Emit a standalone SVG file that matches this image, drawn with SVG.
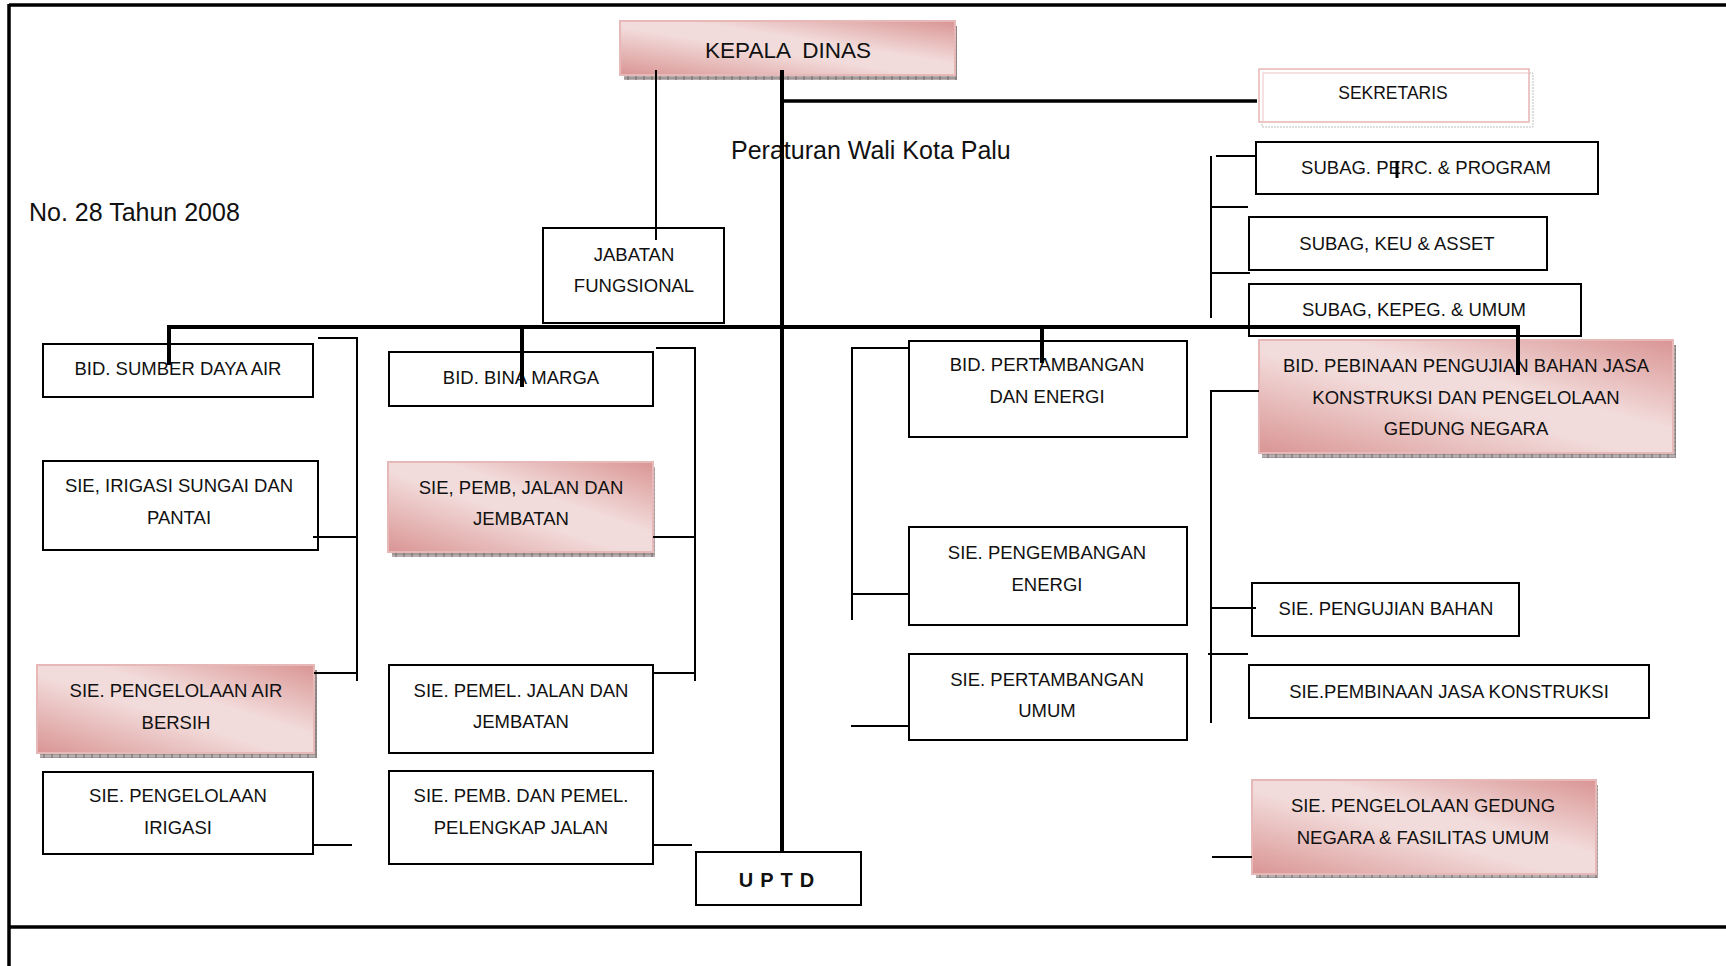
<svg xmlns="http://www.w3.org/2000/svg" width="1726" height="966" viewBox="0 0 1726 966">
<defs>
<linearGradient id="pink" x1="0" y1="1" x2="1" y2="0">
<stop offset="0" stop-color="#d99594"/>
<stop offset="0.45" stop-color="#f2dcdb"/>
<stop offset="0.6" stop-color="#f2dcdb"/>
<stop offset="1" stop-color="#d99594"/>
</linearGradient>
<pattern id="hatch" width="8" height="4" patternUnits="userSpaceOnUse">
<rect width="8" height="4" fill="#b8b0b0"/>
<line x1="0" y1="2" x2="8" y2="2" stroke="#8a7f7f" stroke-width="1"/>
<line x1="4" y1="0" x2="4" y2="4" stroke="#6f6666" stroke-width="1"/>
</pattern>
</defs>
<style>
text{font-family:"Liberation Sans",Arial,sans-serif;fill:#111;text-anchor:middle;font-size:18.5px}
.box{fill:#fff;stroke:#000;stroke-width:2}
.pk{fill:url(#pink);stroke:#e6b8b7;stroke-width:2}
.sh{fill:url(#hatch)}
.thin{stroke:#000;stroke-width:2;fill:none}
.thick{stroke:#000;stroke-width:4;fill:none}
.frame{stroke:#000;stroke-width:3.5;fill:none}
.big{font-size:25px;text-anchor:start}
</style>

<g id="frame">
<line class="frame" x1="9" y1="5" x2="1726" y2="5"/>
<line class="frame" x1="9" y1="4" x2="9" y2="966"/>
<line class="frame" x1="9" y1="927" x2="1726" y2="927"/>
</g>

<text class="big" x="731" y="159">Peraturan Wali Kota Palu</text>
<text class="big" x="29" y="221">No. 28 Tahun 2008</text>

<g id="kepala">
<rect class="sh" x="624" y="26" width="333" height="54"/>
<rect class="pk" x="620" y="21" width="335" height="54"/>
<text x="788" y="58" style="font-size:22.5px;white-space:pre">KEPALA  DINAS</text>
</g>

<g id="sekretaris">
<rect x="1262" y="73" width="271" height="54" fill="#fff" stroke="#bdbdbd" stroke-width="1" stroke-dasharray="2 1"/>
<rect x="1259" y="69" width="270" height="53" fill="#fff" stroke="#e3a3a3" stroke-width="1.2"/>
<rect x="1263" y="73" width="266" height="49" fill="none" stroke="#ecc4c4" stroke-width="1"/>
<text x="1393" y="99" style="font-size:17.5px">SEKRETARIS</text>
</g>

<g id="subag-perc">
<rect class="box" x="1256" y="142" width="342" height="52"/>
<text x="1426" y="174">SUBAG. PERC. &amp; PROGRAM</text>
</g>
<g id="subag-keu">
<rect class="box" x="1249" y="217" width="298" height="53"/>
<text x="1397" y="250">SUBAG, KEU &amp; ASSET</text>
</g>
<g id="subag-kepeg">
<rect class="box" x="1249" y="284" width="332" height="52"/>
<text x="1414" y="316">SUBAG, KEPEG. &amp; UMUM</text>
</g>

<g id="jabatan">
<rect class="box" x="543" y="228" width="181" height="95"/>
<text x="634" y="261">JABATAN</text>
<text x="634" y="292">FUNGSIONAL</text>
</g>

<g id="bid-sda">
<rect class="box" x="43" y="344" width="270" height="53"/>
<text x="178" y="375">BID. SUMBER DAYA AIR</text>
</g>
<g id="sie-irigasi-sungai">
<rect class="box" x="43" y="461" width="275" height="89"/>
<text x="179" y="492">SIE, IRIGASI SUNGAI DAN</text>
<text x="179" y="524">PANTAI</text>
</g>
<g id="sie-air-bersih">
<rect class="sh" x="40" y="670" width="277" height="88"/>
<rect class="pk" x="37" y="665" width="277" height="88"/>
<text x="176" y="697">SIE.  PENGELOLAAN AIR</text>
<text x="176" y="729">BERSIH</text>
</g>
<g id="sie-irigasi">
<rect class="box" x="43" y="772" width="270" height="82"/>
<text x="178" y="802">SIE. PENGELOLAAN</text>
<text x="178" y="834">IRIGASI</text>
</g>

<g id="bid-bina-marga">
<rect class="box" x="389" y="352" width="264" height="54"/>
<text x="521" y="384">BID. BINA MARGA</text>
</g>
<g id="sie-pemb-jalan">
<rect class="sh" x="392" y="467" width="263" height="90"/>
<rect class="pk" x="388" y="462" width="265" height="90"/>
<text x="521" y="494">SIE, PEMB, JALAN DAN</text>
<text x="521" y="525">JEMBATAN</text>
</g>
<g id="sie-pemel-jalan">
<rect class="box" x="389" y="665" width="264" height="88"/>
<text x="521" y="697">SIE. PEMEL. JALAN DAN</text>
<text x="521" y="728">JEMBATAN</text>
</g>
<g id="sie-pelengkap">
<rect class="box" x="389" y="771" width="264" height="93"/>
<text x="521" y="802">SIE. PEMB. DAN PEMEL.</text>
<text x="521" y="834">PELENGKAP JALAN</text>
</g>

<g id="uptd">
<rect class="box" x="696" y="852" width="165" height="53"/>
<text x="780" y="887" style="font-weight:bold;font-size:20px;letter-spacing:7px">UPTD</text>
</g>

<g id="bid-pertambangan">
<rect class="box" x="909" y="341" width="278" height="96"/>
<text x="1047" y="371">BID. PERTAMBANGAN</text>
<text x="1047" y="403">DAN ENERGI</text>
</g>
<g id="sie-pengembangan">
<rect class="box" x="909" y="527" width="278" height="98"/>
<text x="1047" y="559">SIE. PENGEMBANGAN</text>
<text x="1047" y="591">ENERGI</text>
</g>
<g id="sie-pertambangan-umum">
<rect class="box" x="909" y="654" width="278" height="86"/>
<text x="1047" y="686">SIE. PERTAMBANGAN</text>
<text x="1047" y="717">UMUM</text>
</g>

<g id="bid-pebinaan">
<rect class="sh" x="1262" y="345" width="414" height="113"/>
<rect class="pk" x="1259" y="340" width="414" height="113"/>
<text x="1466" y="372">BID. PEBINAAN PENGUJIAN BAHAN JASA</text>
<text x="1466" y="404">KONSTRUKSI DAN PENGELOLAAN</text>
<text x="1466" y="435">GEDUNG NEGARA</text>
</g>
<g id="sie-pengujian">
<rect class="box" x="1252" y="583" width="267" height="53"/>
<text x="1386" y="615">SIE. PENGUJIAN BAHAN</text>
</g>
<g id="sie-jasa-konstruksi">
<rect class="box" x="1249" y="665" width="400" height="53"/>
<text x="1449" y="698">SIE.PEMBINAAN JASA KONSTRUKSI</text>
</g>
<g id="sie-gedung">
<rect class="sh" x="1256" y="785" width="342" height="93"/>
<rect class="pk" x="1252" y="780" width="344" height="94"/>
<text x="1423" y="812">SIE. PENGELOLAAN GEDUNG</text>
<text x="1423" y="844">NEGARA &amp; FASILITAS UMUM</text>
</g>

<g id="connectors">
<line class="thick" x1="782" y1="70" x2="782" y2="852"/>
<line class="thin" x1="656" y1="70" x2="656" y2="240"/>
<line class="thick" x1="782" y1="101" x2="1257" y2="101" style="stroke-width:3.5"/>
<line x1="1397" y1="161" x2="1397" y2="178" stroke="#000" stroke-width="3"/>
<polyline class="thick" points="169,365 169,327 1518,327 1518,375"/>
<line class="thick" x1="522" y1="327" x2="522" y2="387"/>
<line class="thick" x1="1042" y1="327" x2="1042" y2="363"/>
<line class="thin" x1="1211" y1="156" x2="1211" y2="318"/>
<line class="thin" x1="1216" y1="156" x2="1256" y2="156"/>
<line class="thin" x1="1210" y1="207" x2="1248" y2="207"/>
<line class="thin" x1="1210" y1="273" x2="1250" y2="273"/>
<polyline class="thin" points="318,338 357,338 357,681"/>
<line class="thin" x1="313" y1="537" x2="357" y2="537"/>
<line class="thin" x1="314" y1="673" x2="357" y2="673"/>
<line class="thin" x1="313" y1="845" x2="352" y2="845"/>
<polyline class="thin" points="656,348 695,348 695,681"/>
<line class="thin" x1="653" y1="537" x2="695" y2="537"/>
<line class="thin" x1="653" y1="673" x2="695" y2="673"/>
<line class="thin" x1="653" y1="845" x2="692" y2="845"/>
<polyline class="thin" points="909,348 852,348 852,620"/>
<line class="thin" x1="852" y1="594" x2="909" y2="594"/>
<line class="thin" x1="851" y1="726" x2="909" y2="726"/>
<polyline class="thin" points="1259,391 1211,391 1211,723"/>
<line class="thin" x1="1212" y1="608" x2="1256" y2="608"/>
<line class="thin" x1="1208" y1="654" x2="1248" y2="654"/>
<line class="thin" x1="1212" y1="857" x2="1252" y2="857"/>
</g>
</svg>
